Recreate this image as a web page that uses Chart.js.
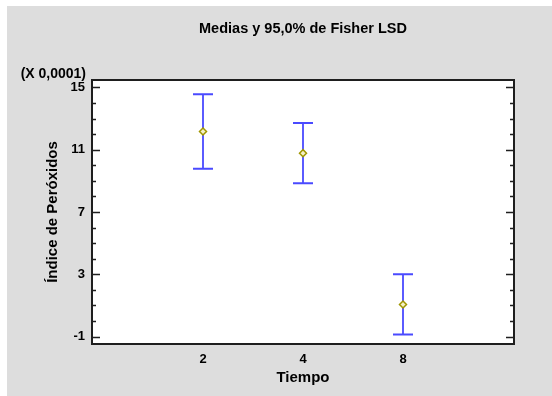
<!DOCTYPE html>
<html>
<head>
<meta charset="utf-8">
<script src="https://cdn.jsdelivr.net/npm/chart.js@4.4.0/dist/chart.umd.min.js"></script>
<style>
  html, body { margin: 0; padding: 0; background: #fff; }
  #wrap { width: 552px; height: 396px; }
</style>
</head>
<body>
<div id="wrap"><canvas id="chart"></canvas></div>
<script>
// Datos (escala X 0,0001)
const categories = ['2', '4', '8'];
const means = [12.17, 10.78, 1.06];
const lowerLimits = [9.78, 8.85, -0.87];
const upperLimits = [14.56, 12.72, 3.0];
const yTickValues = [-1, 3, 7, 11, 15];
const chartTitle = 'Medias y 95,0% de Fisher LSD';
const scaleNote = '(X 0,0001)';

const FONT = '"Liberation Sans", Arial, sans-serif';

// Fondo gris + área blanca
const backgroundPlugin = {
    id: 'background',
    beforeDraw(chart) {
        const { ctx, chartArea: a, width, height } = chart;
        ctx.save();
        ctx.fillStyle = '#ffffff';
        ctx.fillRect(0, 0, width, height);
        ctx.fillStyle = '#dddddd';
        ctx.fillRect(7, 6, width - 7, height - 6);
        ctx.fillStyle = '#ffffff';
        ctx.fillRect(a.left, a.top, a.right - a.left, a.bottom - a.top);
        ctx.restore();
    }
};

// Barras de error (intervalos LSD)
const errorBarsPlugin = {
    id: 'errorBars',
    beforeDatasetsDraw(chart) {
        const { ctx, scales: { x, y } } = chart;
        ctx.save();
        ctx.strokeStyle = '#4a4aff';
        categories.forEach((c, i) => {
            const px = x.getPixelForValue(i + 1);
            const top = y.getPixelForValue(upperLimits[i]);
            const bot = y.getPixelForValue(lowerLimits[i]);
            ctx.lineWidth = 1.8;
            ctx.beginPath();
            ctx.moveTo(px, top);
            ctx.lineTo(px, bot);
            ctx.stroke();
            ctx.lineWidth = 2;
            ctx.beginPath();
            ctx.moveTo(px - 10, top);
            ctx.lineTo(px + 10, top);
            ctx.moveTo(px - 10, bot);
            ctx.lineTo(px + 10, bot);
            ctx.stroke();
        });
        ctx.restore();
    }
};

// Título, marco, marcas hacia dentro y nota de escala
const framePlugin = {
    id: 'frame',
    afterDraw(chart) {
        const { ctx, chartArea: a, scales: { y } } = chart;
        ctx.save();
        ctx.strokeStyle = '#1e1e1e';
        ctx.lineWidth = 2;
        ctx.strokeRect(a.left, a.top, a.right - a.left, a.bottom - a.top);

        ctx.lineWidth = 1.5;
        for (let v = Math.ceil(y.min); v <= Math.floor(y.max); v++) {
            const py = Math.round(y.getPixelForValue(v)) + 0.5;
            const len = yTickValues.includes(v) ? 8 : 4;
            ctx.beginPath();
            ctx.moveTo(a.left, py);
            ctx.lineTo(a.left + len, py);
            ctx.moveTo(a.right, py);
            ctx.lineTo(a.right - len, py);
            ctx.stroke();
        }

        ctx.fillStyle = '#000';
        ctx.textBaseline = 'middle';
        ctx.font = 'bold 14.5px ' + FONT;
        ctx.textAlign = 'center';
        ctx.fillText(chartTitle, (a.left + a.right) / 2, 29);

        ctx.font = 'bold 14px ' + FONT;
        ctx.textAlign = 'right';
        ctx.fillText(scaleNote, 86, 74);
        ctx.restore();
    }
};

const ctx = document.getElementById('chart');
new Chart(ctx, {
    type: 'line',
    data: {
        datasets: [{
            data: means.map((m, i) => ({ x: i + 1, y: m })),
            showLine: false,
            pointStyle: 'rectRot',
            pointRadius: 3.5,
            pointBorderWidth: 1.5,
            pointBorderColor: '#a09600',
            pointBackgroundColor: '#f4f0c8'
        }]
    },
    options: {
        responsive: true,
        maintainAspectRatio: false,
        animation: false,
        layout: { padding: { left: 7, top: 80, right: 38, bottom: 0 } },
        plugins: {
            legend: { display: false },
            tooltip: { enabled: false },
            title: { display: false }
        },
        scales: {
            x: {
                type: 'linear',
                min: -0.11,
                max: 4.11,
                afterBuildTicks: (scale) => {
                    scale.ticks = categories.map((c, i) => ({ value: i + 1 }));
                },
                afterFit: (scale) => { scale.height = 52; },
                grid: { display: false, drawTicks: false },
                border: { display: false },
                ticks: {
                    color: '#000',
                    padding: 8,
                    font: { family: FONT, size: 13, weight: 'bold' },
                    callback: (v) => categories[Math.round(v) - 1]
                },
                title: {
                    display: true,
                    text: 'Tiempo',
                    color: '#000',
                    font: { family: FONT, size: 15, weight: 'bold' },
                    padding: { top: 0, bottom: 9 }
                }
            },
            y: {
                min: -1.48,
                max: 15.48,
                afterBuildTicks: (scale) => {
                    scale.ticks = yTickValues.map(v => ({ value: v }));
                },
                afterFit: (scale) => { scale.width = 85; },
                grid: { display: false, drawTicks: false },
                border: { display: false },
                ticks: {
                    color: '#000',
                    padding: 7,
                    font: { family: FONT, size: 13, weight: 'bold' }
                },
                title: {
                    display: true,
                    text: 'Índice de Peróxidos',
                    color: '#000',
                    font: { family: FONT, size: 15, weight: 'bold' },
                    padding: { top: 37, bottom: 0 }
                }
            }
        }
    },
    plugins: [backgroundPlugin, errorBarsPlugin, framePlugin]
});
</script>
</body>
</html>
